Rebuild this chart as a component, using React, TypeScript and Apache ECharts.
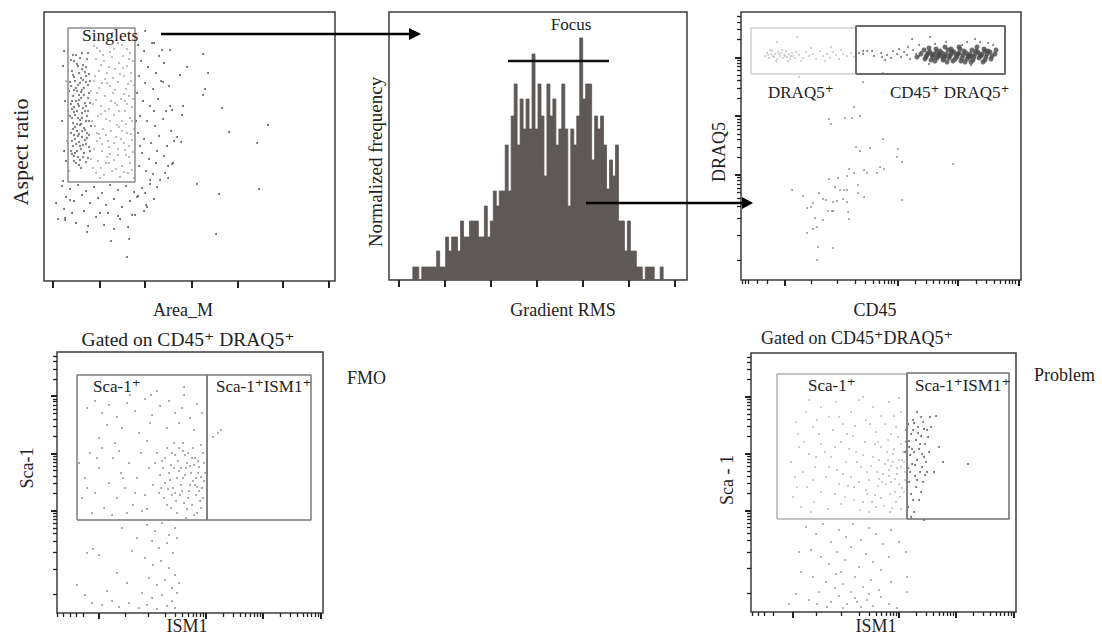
import React, { useEffect, useRef } from "react";
import * as echarts from "echarts";

const FONT = "'Liberation Serif', 'DejaVu Serif', 'Times New Roman', serif";

// ---------- Panel A: Area_M vs Aspect ratio (channel units inside the plot box) ----------
const areaTicks = [9, 56, 101, 148, 194, 239, 285];
const singletsGate = [[24, 99], [91, 99], [91, 253], [24, 253], [24, 99]];
const singletsCore = [
  [30, 220], [34, 215], [28, 210], [38, 212], [42, 205], [31, 200], [36, 198], [27, 195], [40, 193], [33, 190],
  [45, 188], [29, 185], [37, 183], [32, 180], [41, 178], [35, 175], [28, 172], [44, 170], [38, 168], [31, 166],
  [34, 163], [42, 160], [29, 158], [36, 156], [40, 153], [33, 150], [27, 148], [45, 146], [38, 144], [31, 142],
  [35, 139], [42, 137], [29, 135], [37, 132], [33, 130], [40, 128], [30, 125], [44, 123], [36, 121], [32, 118],
  [39, 216], [43, 222], [35, 208], [30, 204], [39, 201], [44, 196], [32, 193], [37, 189], [28, 180], [40, 186],
  [34, 177], [39, 173], [30, 169], [43, 165], [36, 161], [31, 154], [38, 150], [43, 148], [34, 145], [28, 140],
  [41, 141], [36, 135], [31, 128], [39, 124], [35, 116], [46, 130], [47, 155], [46, 178], [46, 200], [26, 165],
  [27, 130], [25, 190], [33, 170], [37, 157], [41, 170], [30, 146], [35, 186], [42, 214], [38, 228], [32, 226],
  [27, 221], [33, 217], [41, 209], [29, 206], [37, 203], [45, 207], [26, 199], [34, 196], [42, 199], [30, 191],
  [38, 191], [44, 183], [27, 177], [35, 181], [42, 175], [30, 174], [38, 163], [45, 160], [28, 163], [33, 157],
  [41, 151], [29, 152], [35, 147], [43, 143], [32, 137], [39, 136], [45, 134], [28, 127], [34, 124], [42, 119],
  [30, 120], [37, 113], [44, 228], [36, 223], [29, 226],
];
const singletsLight = [
  [50, 235], [56, 230], [62, 238], [70, 232], [78, 236], [86, 228], [52, 222], [60, 220], [68, 224], [75, 218],
  [83, 215], [89, 220], [55, 210], [63, 208], [71, 212], [80, 205], [87, 208], [50, 200], [58, 198], [66, 195],
  [74, 199], [82, 192], [90, 196], [53, 188], [61, 185], [69, 188], [77, 182], [85, 185], [49, 177], [57, 175],
  [65, 172], [73, 176], [81, 170], [88, 174], [54, 165], [62, 162], [70, 166], [78, 160], [86, 163], [51, 155],
  [59, 152], [67, 150], [75, 154], [83, 148], [90, 152], [56, 143], [64, 140], [72, 144], [80, 138], [88, 141],
  [50, 132], [58, 130], [66, 127], [74, 132], [82, 126], [89, 129], [54, 120], [62, 118], [70, 121], [78, 115],
  [86, 118], [52, 108], [60, 106], [68, 110], [76, 104], [84, 108], [90, 103], [57, 113], [65, 134], [73, 156],
  [81, 180], [87, 200], [59, 226], [79, 225], [47, 190], [48, 160], [47, 122], [24, 170], [22, 200], [23, 140],
  [25, 110], [63, 198], [71, 178], [55, 147], [85, 135], [61, 170], [77, 142], [69, 203], [53, 140],
  [53, 233], [66, 229], [74, 238], [83, 232], [57, 216], [65, 214], [79, 213], [85, 222], [51, 205], [61, 202],
  [76, 207], [84, 197], [55, 193], [71, 191], [80, 187], [89, 182], [52, 181], [67, 180], [75, 170], [83, 177],
  [57, 167], [66, 160], [82, 157], [88, 160], [53, 148], [62, 146], [70, 138], [78, 150], [87, 147], [58, 137],
  [74, 126], [81, 131], [49, 113], [65, 118], [72, 112], [88, 111], [56, 103], [80, 109], [63, 124], [85, 124],
];
const singletsOuter = [
  [94, 236], [100, 230], [108, 238], [115, 225], [97, 220], [104, 214], [112, 208], [120, 218], [95, 205], [101, 198],
  [109, 192], [117, 200], [125, 195], [93, 188], [99, 180], [106, 175], [114, 182], [122, 170], [96, 165], [103, 160],
  [111, 155], [119, 162], [127, 150], [94, 148], [100, 142], [107, 138], [115, 145], [123, 135], [98, 128], [105, 122],
  [112, 118], [120, 125], [95, 115], [102, 110], [109, 107], [96, 135], [118, 231], [110, 170], [130, 140], [126, 175],
  [101, 250], [92, 160], [124, 115], [113, 130],
  [18, 95], [26, 92], [34, 96], [42, 90], [50, 94], [58, 88], [66, 96], [74, 91], [82, 95], [90, 89],
  [98, 93], [106, 97], [22, 84], [30, 80], [38, 86], [46, 78], [54, 83], [62, 76], [70, 82], [78, 74],
  [86, 80], [94, 85], [102, 76], [110, 82], [20, 72], [28, 68], [40, 70], [52, 64], [64, 68], [76, 62],
  [88, 66], [100, 70], [14, 62], [32, 58], [44, 55], [60, 56], [84, 54], [21, 61], [12, 78], [70, 52],
  [20, 230], [19, 215], [21, 180], [18, 160], [20, 130], [22, 120], [19, 100],
  [159, 227], [164, 208], [161, 192], [159, 186], [178, 173], [139, 175], [138, 166], [128, 171], [185, 149], [224, 156],
  [213, 138], [153, 97], [175, 87], [215, 92], [172, 47], [133, 144], [137, 139], [129, 118], [128, 117], [143, 214],
  [136, 206], [126, 231], [110, 238], [119, 199], [83, 24], [67, 40], [85, 42], [21, 63], [26, 81], [43, 49],
  [56, 68], [74, 65], [91, 66], [103, 74], [101, 88], [93, 84], [113, 94], [116, 101], [124, 103], [121, 108], [106, 101],
];

// ---------- Panel B: Gradient RMS histogram ----------
const rmsTicks = [0, 1, 2, 3, 4, 5, 6];
const gradientCounts = [
  0, 0, 0, 0, 0, 0, 0, 0,
  13, 13, 0, 13, 13, 13, 13, 13, 29, 13,
  13, 43, 29, 43, 43, 29, 59, 43, 43, 59,
  59, 59, 43, 43, 74, 43, 59, 89, 74, 89,
  89, 135, 89, 164, 196, 135, 181, 151, 181, 151,
  226, 151, 196, 164, 104, 196, 164, 181, 135, 151,
  196, 151, 74, 151, 135, 164, 242, 181, 196, 196,
  120, 164, 151, 164, 135, 91, 120, 104, 135, 59,
  59, 29, 59, 29, 29, 13, 13, 0, 13, 13,
  13, 0, 0, 13,
  0, 0, 0, 0, 0, 0, 0, 0,
];
const focusGate = [[2.37, 219], [4.565, 219]];

// ---------- Shared logicle scale (decade units) for CD45 / DRAQ5 / ISM1 / Sca-1 ----------
const X_DEC = [-0.585, 4.045];
const Y_DEC = [0.216, 4.77];
const LOG_MINOR = [0.301, 0.477, 0.602, 0.699, 0.778, 0.845, 0.903, 0.954];
const xMajorDec = [0.144, 2, 3, 4];
const xLowDecCD45 = [-0.56, -0.52, -0.47, -0.32, -0.15, 0.58, 1.0];
const xLowDecISM1a = [-0.58, -0.48, -0.36, -0.25, -0.12, 0.6, 1.0];
const xLowDecISM1b = [-0.57, -0.46, -0.35, -0.2, 0.56, 1.0];
const yMajorDec = [2, 3, 4];
const yLowDec = [0.55, 0.98, 1.27, 1.47, 1.6, 1.699, 1.778, 1.845, 1.903, 1.954];
const yTopDec = [4.301, 4.477, 4.602, 4.699];

// ---------- Panel C: CD45 vs DRAQ5 ----------
const draq5Gate = [[10, 206], [115, 206], [115, 252], [10, 252], [10, 206]];
const cd45Gate = [[115, 206], [264, 206], [264, 254], [115, 254], [115, 206]];
const draq5Only = [
  [24, 224], [26, 227], [28, 222], [30, 226], [31, 229], [33, 223], [34, 226], [36, 221], [37, 228], [39, 224],
  [40, 227], [42, 222], [43, 225], [45, 229], [46, 223], [48, 226], [49, 221], [51, 227], [52, 224], [54, 222],
  [55, 228], [29, 230], [35, 219], [41, 230], [47, 219], [27, 225], [32, 224], [38, 226], [44, 224], [50, 224],
  [58, 225], [62, 222], [65, 228], [68, 224], [72, 226], [75, 221], [79, 229], [82, 224], [86, 226], [89, 222],
  [92, 228], [95, 225], [98, 221], [102, 226], [106, 224], [110, 227], [113, 223], [70, 232], [84, 219], [100, 230],
  [60, 219], [90, 233], [36, 238], [56, 243], [58, 203],
];
const cd45Dense = [
  [183, 230], [189, 228], [195, 231], [201, 227], [207, 230], [213, 228], [219, 231], [225, 227], [231, 230], [237, 228],
  [243, 231], [249, 228], [186, 225], [192, 223], [198, 226], [204, 224], [210, 226], [216, 223], [222, 225], [228, 223],
  [234, 226], [240, 224], [246, 226], [251, 224], [184, 221], [190, 220], [196, 222], [202, 220], [208, 222], [214, 221],
  [220, 219], [226, 221], [232, 220], [238, 222], [244, 220], [250, 221], [188, 232], [204, 233], [218, 233], [236, 233],
  [180, 226], [176, 223], [254, 226], [255, 230], [187, 227], [193, 226], [199, 229], [205, 226], [211, 229], [217, 226],
  [223, 229], [229, 226], [235, 229], [241, 226], [247, 229], [185, 223], [191, 225], [197, 224], [203, 222], [209, 224],
  [215, 225], [221, 222], [227, 224], [233, 223], [239, 225], [245, 223], [194, 219], [206, 218], [212, 219], [224, 218],
  [230, 218], [242, 218], [200, 224], [218, 227], [230, 224], [244, 229], [210, 231], [196, 228],
];
const cd45Tail = [
  [118, 227], [122, 226], [126, 229], [133, 224], [140, 227], [146, 225], [150, 222], [152, 229], [156, 226], [160, 223],
  [163, 228], [166, 225], [169, 221], [172, 230], [175, 226], [178, 224], [180, 228], [158, 231], [144, 220], [167, 233],
  [194, 236], [205, 238], [221, 235], [247, 237], [252, 235], [188, 216], [230, 215], [178, 235],
  [141, 223], [131, 229], [122, 229], [189, 243], [171, 241], [234, 241], [239, 238], [226, 238],
];
const draq5Low = [
  [122, 198], [142, 207], [113, 173], [88, 161], [90, 156], [104, 162], [111, 162], [119, 164], [142, 141], [115, 133],
  [119, 129], [129, 132], [157, 131], [156, 123], [161, 118], [212, 116], [139, 113], [143, 111], [123, 110], [136, 107],
  [126, 107], [108, 111], [113, 107], [106, 104], [88, 101], [97, 102], [117, 95], [94, 93], [99, 90], [103, 90],
  [106, 90], [51, 90], [62, 84], [78, 87], [82, 81], [85, 80], [92, 78], [96, 79], [102, 81], [106, 78],
  [117, 87], [123, 83], [161, 80], [72, 77], [70, 73], [66, 72], [87, 69], [91, 69], [92, 69], [107, 68],
  [74, 62], [108, 61], [82, 60], [76, 53], [72, 51], [66, 47], [77, 33], [92, 32], [76, 20],
];

// ---------- Panel D: ISM1 vs Sca-1, FMO ----------
const fmoScaGate = [[20, 93], [150, 93], [150, 238], [20, 238], [20, 93]];
const fmoIsmGate = [[150, 93], [254, 93], [254, 238], [150, 238], [150, 93]];
const fmoEvents = [
  [30, 205], [38, 212], [45, 200], [52, 208], [60, 196], [70, 210], [78, 202], [88, 214], [95, 198], [103, 207],
  [112, 212], [118, 200], [125, 205], [133, 195], [140, 209], [93, 190], [65, 185], [50, 188], [82, 180], [110, 185],
  [122, 190], [137, 183], [145, 200], [100, 222], [73, 218], [127, 218], [42, 175], [58, 170], [90, 172], [117, 170],
  [127, 226], [94, 218],
  [100, 160], [105, 152], [110, 165], [114, 148], [118, 158], [122, 142], [126, 162], [130, 150], [134, 140], [138, 155],
  [142, 146], [146, 160], [103, 138], [108, 130], [112, 140], [116, 125], [120, 135], [124, 128], [128, 138], [132, 122],
  [136, 132], [140, 126], [144, 136], [147, 150], [102, 120], [107, 115], [111, 124], [115, 118], [119, 112], [123, 118],
  [127, 110], [131, 115], [135, 108], [139, 118], [143, 112], [121, 152], [129, 145], [137, 148], [113, 133], [125, 122],
  [117, 145], [133, 128], [141, 140], [145, 125], [106, 145], [98, 150], [148, 140], [110, 108], [130, 104], [140, 100],
  [120, 100], [136, 165], [144, 168], [126, 170], [131, 160], [139, 135], [124, 145], [115, 160], [108, 155], [146, 115],
  [135, 155], [141, 152], [128, 158], [122, 165], [133, 147], [138, 128], [142, 122], [147, 132], [126, 135], [118, 120],
  [114, 105], [129, 95], [137, 98], [144, 105], [104, 125],
  [22, 150], [28, 135], [33, 160], [38, 120], [42, 145], [47, 105], [52, 130], [56, 155], [60, 115], [64, 140],
  [68, 125], [72, 150], [76, 108], [80, 135], [84, 160], [88, 118], [92, 145], [96, 128], [25, 115], [35, 100],
  [45, 165], [55, 98], [70, 100], [85, 102], [30, 125], [62, 162], [78, 120], [90, 104], [40, 155], [66, 135],
  [156, 176], [161, 180], [164, 183],
  [90, 88], [98, 82], [105, 90], [112, 78], [118, 85], [95, 72], [102, 65], [110, 70], [116, 60], [120, 75],
  [88, 55], [96, 48], [104, 52], [112, 45], [118, 38], [92, 35], [100, 28], [108, 33], [115, 25], [122, 30],
  [85, 20], [95, 15], [105, 18], [115, 12], [120, 20], [30, 60], [36, 64], [42, 58], [75, 62], [80, 75],
  [60, 40], [70, 30], [20, 28], [28, 18], [35, 10], [45, 8], [55, 12], [62, 6], [72, 10], [82, 5],
  [90, 8], [100, 4], [110, 7], [118, 5], [50, 22], [65, 85],
];

// ---------- Panel E: ISM1 vs Sca-1, Problem ----------
const probScaGate = [[26, 93], [156, 93], [156, 238], [26, 238], [26, 93]];
const probIsmGate = [[156, 93], [258, 93], [258, 239], [156, 239], [156, 93]];
const probScaPos = [
  [45, 190], [55, 200], [62, 185], [70, 205], [78, 195], [85, 210], [92, 188], [100, 200], [108, 212], [115, 192],
  [122, 205], [130, 196], [138, 210], [145, 185], [150, 200], [68, 178], [96, 178], [125, 180], [112, 215], [140, 178],
  [58, 212], [82, 182], [104, 186], [134, 188], [148, 214],
  [40, 150], [48, 165], [52, 140], [58, 158], [64, 145], [70, 168], [75, 135], [80, 155], [86, 142], [90, 170],
  [95, 150], [100, 135], [105, 160], [110, 145], [114, 170], [118, 132], [122, 155], [126, 140], [130, 165], [134, 148],
  [138, 136], [142, 158], [146, 144], [150, 168], [153, 150], [44, 135], [62, 132], [84, 165], [98, 163], [112, 157],
  [120, 146], [128, 152], [136, 160], [144, 133], [148, 152], [116, 140], [132, 138], [124, 168], [140, 146], [108, 130],
  [42, 115], [50, 105], [56, 125], [63, 110], [70, 120], [77, 103], [84, 118], [90, 108], [97, 126], [103, 112],
  [109, 102], [115, 122], [121, 110], [127, 126], [133, 106], [139, 118], [145, 110], [151, 124], [60, 100], [88, 128],
  [118, 100], [135, 128], [46, 125], [94, 115], [141, 104], [124, 117], [112, 110], [130, 114], [150, 103], [154, 132],
  [138, 142], [142, 150], [146, 138], [150, 145], [152, 160], [148, 128], [144, 120], [140, 130], [154, 140], [151, 152],
  [47, 178], [53, 170], [66, 192], [74, 160], [88, 195], [102, 176], [106, 150], [119, 188], [127, 170], [131, 130],
  [137, 172], [143, 196], [147, 175], [65, 155], [78, 145], [92, 138], [103, 125], [116, 118], [125, 105], [139, 100],
  [149, 115], [153, 120], [137, 152], [143, 163], [128, 133],
];
const probDouble = [
  [157, 188], [162, 192], [167, 185], [172, 190], [176, 182], [160, 178], [165, 172], [170, 176], [174, 168], [158, 165],
  [163, 160], [168, 163], [173, 155], [156, 152], [161, 148], [166, 152], [171, 145], [159, 140], [164, 136], [169, 140],
  [175, 150], [178, 160], [156, 175], [162, 182], [170, 195], [177, 175], [158, 130], [165, 125], [160, 118], [168, 112],
  [157, 105], [163, 100], [172, 130], [166, 200], [180, 185], [176, 140], [154, 160], [155, 170],
  [158, 171], [161, 163], [164, 147], [167, 179], [171, 158], [174, 137], [157, 144], [163, 189], [169, 168], [159, 157],
  [166, 132], [173, 183], [155, 182], [162, 112], [170, 120],
  [179, 195], [185, 196], [192, 150], [217, 148], [188, 165], [183, 140], [173, 92], [160, 95],
];
const probLow = [
  [55, 85], [65, 78], [72, 88], [80, 70], [88, 82], [95, 75], [102, 88], [110, 72], [118, 84], [125, 78],
  [132, 68], [140, 82], [148, 70], [155, 60], [60, 62], [70, 55], [78, 48], [86, 60], [94, 52], [100, 65],
  [108, 45], [115, 58], [122, 50], [130, 42], [138, 55], [50, 40], [62, 35], [75, 30], [85, 38], [92, 28],
  [104, 35], [112, 25], [120, 32], [128, 22], [140, 30], [45, 18], [58, 12], [68, 20], [80, 10], [88, 16],
  [96, 8], [104, 14], [110, 5], [116, 12], [122, 6], [130, 15], [138, 8], [146, 4], [92, 4], [100, 20],
  [84, 24], [106, 10], [76, 5], [66, 8], [156, 20], [156, 35], [48, 60], [38, 8], [90, 40], [118, 18],
];

// ---------- helpers ----------
const INK = "#222";
function decToCh(v: number, dec: number[], size: number) {
  return ((v - dec[0]) / (dec[1] - dec[0])) * size;
}
function xTicks(low: number[], size: number) {
  const major = xMajorDec.map((v) => decToCh(v, X_DEC, size));
  const minorDec = [...low, ...[1, 2, 3].flatMap((d) => LOG_MINOR.map((m) => d + m))];
  const minor = minorDec.map((v) => decToCh(v, X_DEC, size));
  return { major, minor };
}
function yTicks(size: number) {
  const major = yMajorDec.map((v) => decToCh(v, Y_DEC, size));
  const minorDec = [...yLowDec, ...[2, 3].flatMap((d) => LOG_MINOR.map((m) => d + m)), ...yTopDec];
  const minor = minorDec.map((v) => decToCh(v, Y_DEC, size));
  return { major, minor };
}
function valAxis(gridIndex: number, max: number, position: string, ticks: number[] | null, len = 6, width = 1.5, min = 0) {
  return {
    type: "value",
    gridIndex,
    min,
    max,
    position,
    axisLine: { show: false },
    axisLabel: { show: false },
    splitLine: { show: false },
    axisTick: ticks
      ? { show: true, inside: false, customValues: ticks, length: len, lineStyle: { color: INK, width } }
      : { show: false },
  };
}
function scatter(xi: number, yi: number, data: number[][], color: string, size = 2) {
  return {
    type: "scatter",
    xAxisIndex: xi,
    yAxisIndex: yi,
    data,
    symbol: "circle",
    symbolSize: size,
    itemStyle: { color },
    silent: true,
  };
}
function gate(xi: number, yi: number, data: number[][], color: string, width = 1.5) {
  return {
    type: "line",
    xAxisIndex: xi,
    yAxisIndex: yi,
    data,
    symbol: "none",
    lineStyle: { color, width },
    silent: true,
    z: 5,
  };
}
function label(text: string, x: number, y: number, size = 18, align = "center", rotate = false) {
  return {
    type: "text",
    x,
    y,
    z: 100,
    rotation: rotate ? Math.PI / 2 : 0,
    style: {
      text,
      fontSize: size,
      fontFamily: FONT,
      fill: INK,
      align,
      verticalAlign: "middle",
    },
  };
}

function buildOption() {
  const grids = [
    { left: 44, top: 12, width: 291, height: 269 },
    { left: 389, top: 12, width: 298, height: 268 },
    { left: 741, top: 12, width: 280, height: 268 },
    { left: 57, top: 352, width: 266, height: 261 },
    { left: 751, top: 353, width: 265, height: 259 },
  ].map((g) => ({
    ...g,
    show: true,
    borderColor: "#3c3c3c",
    borderWidth: 1.5,
    backgroundColor: "transparent",
    containLabel: false,
    outerBoundsMode: "none",
  }));

  const t3x = xTicks(xLowDecCD45, 280);
  const t3y = yTicks(268);
  const t4x = xTicks(xLowDecISM1a, 266);
  const t4y = yTicks(261);
  const t5x = xTicks(xLowDecISM1b, 265);
  const t5y = yTicks(259);

  const xAxis: any[] = [
    valAxis(0, 291, "bottom", areaTicks, 7, 2), // 0
    {
      type: "category",
      gridIndex: 1,
      show: false,
      data: gradientCounts.map((_, i) => String(i)),
      boundaryGap: true,
    }, // 1
    valAxis(1, 6.26, "bottom", rmsTicks, 7, 2, -0.217), // 2
    valAxis(2, 280, "bottom", t3x.major, 6, 2), // 3
    valAxis(2, 280, "bottom", t3x.minor, 4, 1.3), // 4
    valAxis(3, 266, "bottom", t4x.major, 6, 2), // 5
    valAxis(3, 266, "bottom", t4x.minor, 4, 1.3), // 6
    valAxis(4, 265, "bottom", t5x.major, 6, 2), // 7
    valAxis(4, 265, "bottom", t5x.minor, 4, 1.3), // 8
  ];
  const yAxis: any[] = [
    valAxis(0, 269, "left", null), // 0
    valAxis(1, 268, "left", null), // 1
    valAxis(2, 268, "left", t3y.major, 6, 2), // 2
    valAxis(2, 268, "left", t3y.minor, 4, 1.3), // 3
    valAxis(3, 261, "left", t4y.major, 6, 2), // 4
    valAxis(3, 261, "left", t4y.minor, 4, 1.3), // 5
    valAxis(4, 259, "left", t5y.major, 6, 2), // 6
    valAxis(4, 259, "left", t5y.minor, 4, 1.3), // 7
  ];

  const series: any[] = [
    // Panel A
    scatter(0, 0, singletsLight, "#a3a3a3", 2.2),
    scatter(0, 0, singletsCore, "#5a5a5a", 2.3),
    scatter(0, 0, singletsOuter, "#3a3a3a", 2),
    gate(0, 0, singletsGate, "#8c8c8c", 1.5),
    // Panel B: histogram drawn as a stepped filled outline (solid like the original)
    {
      type: "line",
      xAxisIndex: 1,
      yAxisIndex: 1,
      data: gradientCounts,
      step: "middle",
      symbol: "none",
      lineStyle: { color: "#5e5957", width: 0.8 },
      areaStyle: { color: "#5e5957", opacity: 1 },
      silent: true,
    },
    gate(2, 1, focusGate, "#111", 2.5),
    // Panel C
    scatter(3, 2, draq5Only, "#bdbdbd", 2),
    scatter(3, 2, draq5Low, "#6a6a6a", 1.8),
    scatter(3, 2, cd45Tail, "#555555", 2),
    scatter(3, 2, cd45Dense, "#484848", 5),
    gate(3, 2, draq5Gate, "#cfcfcf", 1.5),
    gate(3, 2, cd45Gate, "#6b6b6b", 2),
    // Panel D
    scatter(5, 4, fmoEvents, "#6a6a6a", 1.8),
    gate(5, 4, fmoScaGate, "#7a7a7a", 1.5),
    gate(5, 4, fmoIsmGate, "#7a7a7a", 1.5),
    // Panel E
    scatter(7, 6, probScaPos, "#a8a8a8", 1.8),
    scatter(7, 6, probLow, "#777777", 1.8),
    scatter(7, 6, probDouble, "#444444", 2),
    gate(7, 6, probScaGate, "#b3b3b3", 1.5),
    gate(7, 6, probIsmGate, "#6e6e6e", 1.5),
  ];

  const graphic: any[] = [
    // arrows
    { type: "line", z: 100, shape: { x1: 161, y1: 34, x2: 411, y2: 34 }, style: { stroke: "#000", lineWidth: 2.5 } },
    { type: "polygon", z: 100, shape: { points: [[409, 28], [421, 34], [409, 40]] }, style: { fill: "#000" } },
    { type: "line", z: 100, shape: { x1: 586, y1: 203, x2: 744, y2: 203 }, style: { stroke: "#000", lineWidth: 2.5 } },
    { type: "polygon", z: 100, shape: { points: [[742, 197], [753, 203], [742, 209]] }, style: { fill: "#000" } },
    // Panel A
    label("Singlets", 82, 35, 17.5, "left"),
    label("Aspect ratio", 20, 152, 22, "center", true),
    label("Area_M", 183, 310, 18),
    // Panel B
    label("Focus", 571, 24, 17),
    label("Normalized frequency", 375, 162, 19, "center", true),
    label("Gradient RMS", 563, 310, 18),
    // Panel C
    label("DRAQ5\u207A", 768, 92, 17, "left"),
    label("CD45\u207A DRAQ5\u207A", 890, 92, 17, "left"),
    label("DRAQ5", 719, 152, 18, "center", true),
    label("CD45", 875, 310, 18),
    // Panel D
    label("Gated on CD45\u207A DRAQ5\u207A", 188, 339, 19.5),
    label("FMO", 347, 378, 18, "left"),
    label("Sca-1\u207A", 93, 386, 17, "left"),
    label("Sca-1\u207AISM1\u207A", 216, 386, 17, "left"),
    label("Sca-1", 27, 468, 18, "center", true),
    label("ISM1", 187, 626, 18),
    // Panel E
    label("Gated on CD45\u207ADRAQ5\u207A", 857, 338, 18),
    label("Problem", 1034, 375, 18, "left"),
    label("Sca-1\u207A", 808, 385, 17, "left"),
    label("Sca-1\u207AISM1\u207A", 915, 385, 17, "left"),
    label("Sca - 1", 727, 480, 18, "center", true),
    label("ISM1", 876, 626, 18),
  ];

  return {
    animation: false,
    backgroundColor: "#ffffff",
    grid: grids,
    xAxis,
    yAxis,
    series,
    graphic,
  };
}

export default function App() {
  const ref = useRef<HTMLDivElement>(null);
  useEffect(() => {
    document.body.style.margin = "0";
    const chart = echarts.init(ref.current as HTMLDivElement, null, { renderer: "svg" });
    chart.setOption(buildOption() as any);
    return () => chart.dispose();
  }, []);
  return (
    <div
      ref={ref}
      style={{ position: "absolute", left: 0, top: 0, width: 1102, height: 635, background: "#fff" }}
    />
  );
}
